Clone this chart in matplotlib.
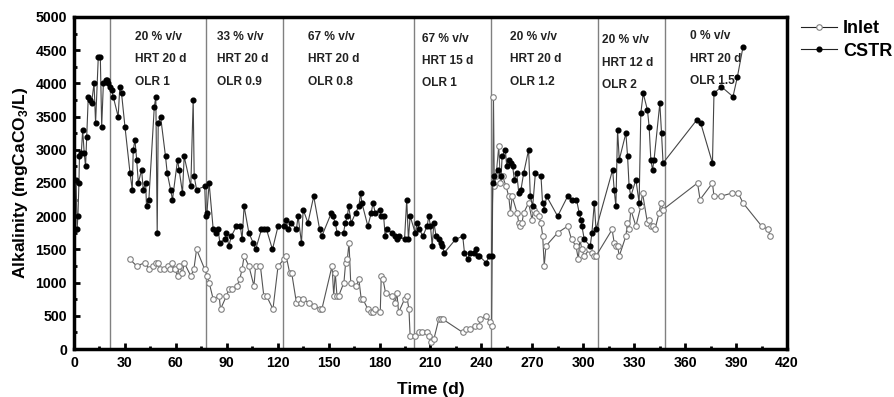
import matplotlib
matplotlib.use("Agg")
import matplotlib.pyplot as plt
from matplotlib.ticker import MultipleLocator

plt.rcParams['font.family'] = ['Liberation Sans', 'DejaVu Sans']
plt.rcParams['font.weight'] = 'bold'
plt.rcParams['mathtext.fontset'] = 'custom'
plt.rcParams['mathtext.rm'] = 'Liberation Sans:bold'
plt.rcParams['mathtext.bf'] = 'Liberation Sans:bold'

# ---------------- data ----------------
cstr_day = [1.2, 1.8, 2.3, 2.9, 3.2, 4.3, 5.1, 6.0, 6.8, 7.5, 8.4, 9.4, 10.3, 11.8, 12.7,
            14.3, 15.5, 16.3, 17.3, 18.6, 19.5, 20.3, 21.2, 22.2, 23.1, 26, 27, 28, 30,
            33, 34.3, 34.9, 35.9, 36.9, 37.9, 39.8, 40.8, 42.2, 42.7, 44.1, 47.3, 48.2, 49,
            49.6, 51, 53.9, 54.9, 56.9, 58, 61, 61.9, 63.9, 64.9, 68.8, 70.2, 70.8, 72.2,
            77, 77.6, 78.3, 79.6, 82, 83.9, 84.9, 85.9, 88.8, 89.8, 91.2, 92.7, 95.7, 98, 99,
            100.2, 103, 105.5, 107, 110.4, 111.8, 113.4, 116.9, 120.2, 123.7, 125, 126, 128,
            131, 132, 134, 135, 137.8, 141.2, 144.7, 146, 151.6, 152.5, 153.9, 155, 158.8,
            159.8, 161, 161.8, 163.3, 165.9, 167.8, 168.8, 169.6, 173.1, 175.1, 176.1, 177.5,
            180, 181, 182.4, 183.3, 184.3, 187.3, 189.2, 190.2, 191.2, 194.7, 196, 197, 198,
            201, 202.2, 203.5, 205.5, 208, 209, 210, 211, 212, 213.3, 214.9, 215.9, 216.9,
            218.2, 224.7, 229, 230, 232, 233, 235.9, 236.9, 237.8, 238.8, 242.7, 244.7, 246,
            246.7, 247.6, 249.6, 251.6, 252.2, 254.1, 254.9, 256, 257.5, 258.4, 259.4, 260.8,
            262, 263.3, 264.9, 267.8, 268.8, 270.2, 271.8, 275.1, 276, 277, 278.4, 284.9,
            290.8, 293.3, 296, 297.6, 298.6, 299.2, 300.6, 304.1, 305.1, 306.5, 307.5,
            317.3, 318.2, 319.2, 320.2, 321.2, 325.1, 326.1, 327, 328, 331, 332.9, 333.9,
            335.3, 337.8, 338.8, 339.8, 340.8, 341.7, 345.1, 346.1, 347, 366.9, 369.2, 376.1,
            377, 381.4, 388.2, 390.8, 394.1]
cstr_alk = [2550, 1800, 2000, 2500, 2900, 2950, 3300, 2950, 2750, 3200, 3800, 3750, 3700, 4000, 3400,
            4400, 4400, 3350, 4000, 4050, 4050, 4000, 3950, 3900, 3800, 3500, 3950, 3850, 3350,
            2650, 2400, 3000, 3150, 2850, 2500, 2700, 2400, 2500, 2150, 2250, 3650, 3800, 1750,
            3400, 3500, 2900, 2650, 2400, 2250, 2850, 2700, 2350, 2900, 2450, 3750, 2600, 2400,
            2450, 2000, 2050, 2500, 1800, 1750, 1800, 1600, 1650, 1750, 1550, 1700, 1850, 1850, 1650,
            2150, 1750, 1600, 1500, 1800, 1800, 1800, 1500, 1850, 1850, 1950, 1800, 1900,
            1800, 2000, 1600, 2100, 1900, 2300, 1800, 1700, 2050, 2000, 1900, 1750, 1750,
            1900, 2000, 2150, 1900, 2050, 2150, 2350, 2200, 1850, 2050, 2200, 2050,
            2100, 2000, 2000, 1700, 1800, 1750, 1700, 1650, 1700, 1650, 2250, 1650, 2000,
            1750, 1900, 1800, 1700, 1850, 2000, 1850, 1550, 1900, 1700, 1650, 1600, 1550,
            1450, 1650, 1700, 1450, 1350, 1450, 1450, 1500, 1400, 1400, 1300, 1400, 1400,
            2500, 2600, 2700, 2600, 2900, 3000, 2750, 2850, 2800, 2750, 2550, 2650,
            2350, 2400, 2650, 3000, 2300, 2150, 2650, 2600, 2200, 2100, 2300, 2000,
            2300, 2250, 2250, 2050, 1950, 1850, 1650, 1550, 1750, 2200, 1800,
            2700, 2400, 2150, 3300, 2850, 3250, 2900, 2450, 2300, 2550, 2200, 3550,
            3850, 3600, 3350, 2850, 2700, 2850, 3700, 3250, 2800, 3450, 3400, 2800,
            3850, 3950, 3800, 4100, 4550]

inlet_day = [33, 36.9, 41.8, 44.3, 46.7, 48.2, 49.2, 50.6, 53.2, 55.1, 56.5, 57.8, 59.4, 61, 61.9,
             63.9, 64.9, 68.8, 70.6, 72.2, 77, 78.4, 79.6, 82, 85.5, 86.3, 89.8, 91.2, 93.1, 96,
             97.6, 99, 100.2, 103, 106, 107, 109.8, 111.8, 113.4, 117.2, 120.2, 123.7, 125, 127,
             128.2, 131, 132.2, 133.5, 134.9, 138.2, 141.2, 145.1, 146, 152, 153, 153.9, 154.9,
             155.9, 159, 160, 161, 162, 163, 166.3, 167.8, 169.2, 170.2, 173.1, 175.1, 176.1,
             177.5, 180.4, 181, 182, 183.5, 187.5, 189.2, 190.2, 191.2, 194.7, 196, 197.3, 198,
             201, 203, 205, 208, 209, 210.4, 212, 214.9, 216.2, 217.2, 229, 231, 233, 236.5,
             238.4, 239.4, 242.7, 245, 246, 247.1, 247.6, 248.6, 250.2, 251.2, 252.5, 254.5,
             256.1, 257.1, 258.1, 261, 262, 263, 263.9, 264.9, 267.8, 269.8, 270.8, 272.2,
             273.7, 275.1, 276.1, 277, 278, 284.9, 290.8, 293.1, 295.7, 297.1, 298, 299.2,
             300.6, 303.5, 305.1, 306.5, 307.5, 317, 318.2, 319.2, 320.2, 321.2, 325.1, 326,
             327, 328, 331, 333.9, 334.9, 337.8, 338.8, 339.8, 340.8, 342.2, 344.7, 345.7, 347,
             367.3, 368.8, 376.1, 377, 381, 387.8, 391.2, 394.1, 405.1, 409, 410]
inlet_alk = [1350, 1250, 1300, 1200, 1250, 1300, 1300, 1200, 1200, 1250, 1200, 1300, 1200, 1100, 1250,
             1150, 1300, 1100, 1200, 1500, 1200, 1100, 1000, 750, 800, 600, 800, 900, 900, 950,
             1050, 1200, 1400, 1250, 950, 1250, 1250, 800, 800, 600, 1250, 1350, 1400, 1150,
             1150, 700, 750, 700, 750, 700, 650, 600, 600, 1250, 800, 1150, 800,
             800, 1000, 1300, 1350, 1600, 1000, 950, 1050, 750, 750, 600, 550, 550,
             600, 550, 1100, 1050, 850, 800, 700, 850, 550, 750, 800, 600, 200,
             200, 250, 250, 250, 200, 100, 150, 450, 450, 450, 250, 300, 300, 350,
             350, 450, 500, 400, 350, 3800, 2450, 2600, 3050, 2500, 2600, 2450,
             2300, 2050, 2300, 2050, 1900, 1850, 1900, 2050, 2200, 1950, 2100, 2050,
             2000, 1900, 1700, 1250, 1550, 1750, 1850, 1650, 1550, 1350, 1650, 1500,
             1400, 1500, 1450, 1400, 1400, 1800, 1600, 1550, 1550, 1400, 1700, 1900,
             1800, 2100, 1850, 2150, 2350, 1900, 1950, 1850, 1850, 1800, 2050, 2200, 2100,
             2500, 2250, 2500, 2300, 2300, 2350, 2350, 2200, 1850, 1800, 1700]

phase_bounds = [21, 78, 123, 200, 245.5, 308.5, 348]
phase_labels = [
    "20 % v/v\nHRT 20 d\nOLR 1",
    "33 % v/v\nHRT 20 d\nOLR 0.9",
    "67 % v/v\nHRT 20 d\nOLR 0.8",
    "67 % v/v\nHRT 15 d\nOLR 1",
    "20 % v/v\nHRT 20 d\nOLR 1.2",
    "20 % v/v\nHRT 12 d\nOLR 2",
    "0 % v/v\nHRT 20 d\nOLR 1.5",
]
label_x = [36, 84.5, 138, 205, 257, 311, 363]
label_y = [4790, 4790, 4790, 4765, 4790, 4740, 4800]

# ---------------- figure ----------------
fig = plt.figure(figsize=(8.95, 3.97), dpi=100)
ax = fig.add_axes([0.0827, 0.1209, 0.7966, 0.8363])

for b in phase_bounds:
    ax.axvline(b, color='#808080', lw=1.0, zorder=1)

ax.plot(inlet_day, inlet_alk, '-o', color='#555555', lw=0.8, ms=4.0,
        mfc='white', mec='#808080', mew=0.8, label='Inlet', zorder=3)
ax.plot(cstr_day, cstr_alk, '-o', color='#444444', lw=0.8, ms=3.4,
        mfc='black', mec='black', label='CSTR', zorder=4)

for x, y, t in zip(label_x, label_y, phase_labels):
    ax.text(x, y, t, ha='left', va='top', fontsize=8.6, fontweight='bold',
            linespacing=2.15, color='#222222')

ax.set_xlim(0, 420)
ax.set_ylim(0, 5000)
ax.xaxis.set_major_locator(MultipleLocator(30))
ax.xaxis.set_minor_locator(MultipleLocator(15))
ax.yaxis.set_major_locator(MultipleLocator(500))
ax.yaxis.set_minor_locator(MultipleLocator(250))
ax.tick_params(which='major', direction='in', length=4.5, width=2.0, labelsize=10.2, pad=5)
ax.tick_params(which='minor', direction='in', length=2.5, width=2.0)
for lab in ax.get_xticklabels() + ax.get_yticklabels():
    lab.set_fontweight('bold')
for s in ax.spines.values():
    s.set_linewidth(2.5)

ax.set_xlabel('Time (d)', fontsize=12.5, fontweight='bold', labelpad=9)
ax.set_ylabel(r'Alkalinity (mgCaCO$_\mathbf{3}$/L)', fontsize=12.5, fontweight='bold', labelpad=4)

leg = ax.legend(loc='upper left', bbox_to_anchor=(1.01, 1.012), frameon=False,
                prop={'size': 13, 'weight': 'bold'}, handlelength=2.0, handletextpad=0.3,
                labelspacing=0.3, borderaxespad=0.0)
for h in leg.legend_handles:
    h.set_color('#222222')

fig.savefig('out.png', dpi=100)
